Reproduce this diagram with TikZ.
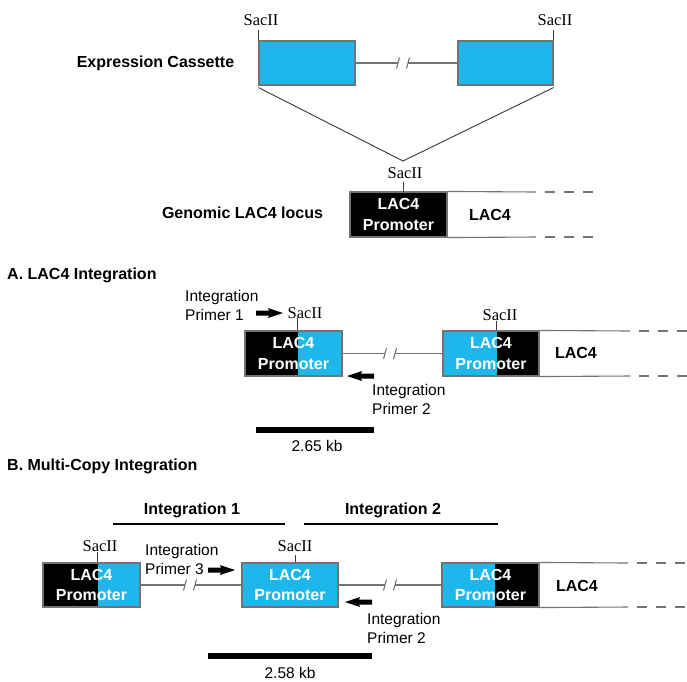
\documentclass[tikz,border=0pt]{standalone}
\usepackage{fontspec}
\setmainfont{Liberation Sans}
\newfontfamily\sacfont{Liberation Serif}
\usetikzlibrary{calc}
\definecolor{cyanbox}{RGB}{30,183,235}
\definecolor{edgegray}{RGB}{115,115,115}
\definecolor{diag}{RGB}{55,55,55}
\begin{document}
\begin{tikzpicture}[x=1pt,y=-1pt,
  labelb/.style={font=\fontsize{16}{19}\selectfont\bfseries, inner sep=0pt},
  labeln/.style={font=\fontsize{15.5}{19}\selectfont, inner sep=0pt, align=left},
  sac/.style={font=\fontsize{16.5}{18}\selectfont\sacfont, inner sep=0pt},
  genebox/.style={draw=edgegray, line width=1.1pt, minimum height=45pt, minimum width=97pt,
     inner sep=0pt, font=\fontsize{16}{20.5}\selectfont\bfseries, text=white, align=center},
  blackleft/.style={fill=cyanbox, path picture={\fill[black] (path picture bounding box.north west) rectangle ([xshift=#1]path picture bounding box.south west);}},
  cyanleft/.style={fill=black, path picture={\fill[cyanbox] (path picture bounding box.north west) rectangle ([xshift=#1]path picture bounding box.south west);}},
  conn/.style={draw=edgegray, line width=1.1pt},
  tick/.style={draw=diag, line width=0.9pt},
  diagline/.style={draw=diag, line width=0.9pt},
  dashedend/.style={draw=edgegray, line width=1.1pt, dash pattern=on 10pt off 9pt},
  intbar/.style={draw=black, line width=2pt},
  scalebar/.style={draw=black, line width=5.5pt},
  brk/.pic={\draw[conn] (-6.5,5.5) -- (-3.5,-5.5); \draw[conn] (3.5,5.5) -- (6.5,-5.5);},
  primer/.pic={\fill[black] (0,-2.5) -- (13,-2.5) -- (12,-5) -- (27,0) -- (12,5) -- (13,2.5) -- (0,2.5) -- cycle;}
]
\useasboundingbox (0,0) rectangle (687,681);

% ---------------- Top: expression cassette ----------------
\node[labelb] (ec) at (155.5,63) {Expression Cassette};
\node[genebox, fill=cyanbox, minimum width=96pt, minimum height=44pt] (cL) at (307,63) {};
\node[genebox, fill=cyanbox, minimum width=95pt, minimum height=44pt] (cR) at (505.5,63) {};
\node[sac] (s1) at (261,20) {SacII};
\node[sac] (s2) at (555,20) {SacII};
\draw[tick] (cL.north west) -- ++(0,-10);
\draw[tick] (cR.north east) -- ++(0,-10);
\coordinate (b0) at (403,63);
\draw[conn] (cL.east) -- ([xshift=-5pt]b0);
\draw[conn] ([xshift=5pt]b0) -- (cR.west);
\pic at (b0) {brk};
\coordinate (V) at (403,161);
\draw[diagline] ([yshift=-2pt]cL.south west) -- (V) -- ([yshift=-2pt]cR.south east);

% ---------------- Genomic locus ----------------
\node[sac] (s3) at (405,173) {SacII};
\node[labelb] (gl) at (242.5,213) {Genomic LAC4 locus};
\node[genebox, fill=black] (gen) at (398.5,214.5) {LAC4\\Promoter};
\coordinate (gt) at (403,192);
\draw[tick] (gt) -- ++(0,-10);
\coordinate (g1) at (536,192);
\coordinate (g2) at (536,237);
\draw[conn] (gen.north east) -- (g1);
\draw[conn] (gen.south east) -- (g2);
\draw[dashedend] (545,192) -- (600,192);
\draw[dashedend] (545,237) -- (600,237);
\node[labelb] (gl4) at (490,215) {LAC4};

% ---------------- A. LAC4 Integration ----------------
\node[labelb, anchor=west] (hA) at (7,275) {A. LAC4 Integration};
\node[labeln, anchor=west] (p1) at (185,305) {Integration\\Primer 1};
\pic at (256,313) {primer};
\node[sac] (s4) at (305,313) {SacII};
\node[genebox, blackleft=53pt] (A1) at (293.5,353.5) {LAC4\\Promoter};
\draw[tick] ([xshift=53pt]A1.north west) -- ++(0,-12);
\node[genebox, cyanleft=54pt, minimum width=96pt] (A2) at (491,353.5) {LAC4\\Promoter};
\node[sac] (s5) at (500,315) {SacII};
\draw[tick] ([xshift=54pt]A2.north west) -- ++(0,-9);
\coordinate (bA) at (390,353.5);
\draw[conn] (A1.east) -- ([xshift=-5pt]bA);
\draw[conn] ([xshift=5pt]bA) -- (A2.west);
\pic at (bA) {brk};
\coordinate (a1) at (630,331);
\coordinate (a2) at (630,376);
\draw[conn] (A2.north east) -- (a1);
\draw[conn] (A2.south east) -- (a2);
\draw[dashedend] (639,331) -- (687,331);
\draw[dashedend] (639,376) -- (687,376);
\node[labelb] (al4) at (576,353) {LAC4};
\pic[rotate=180] at (374,376) {primer};
\node[labeln, anchor=west] (p2) at (372,399) {Integration\\Primer 2};
\draw[scalebar] (256,430) -- (374,430);
\node[labeln] (kbA) at (317,446) {2.65 kb};

% ---------------- B. Multi-Copy Integration ----------------
\node[labelb, anchor=west] (hB) at (7,466) {B. Multi-Copy Integration};
\node[labelb] (i1) at (192,510) {Integration 1};
\draw[intbar] (113,524) -- (285,524);
\node[labelb] (i2) at (393,510) {Integration 2};
\draw[intbar] (304,524) -- (498,524);

\node[genebox, blackleft=55pt, minimum height=44pt] (B1) at (91.5,585) {LAC4\\Promoter};
\node[sac] (s6) at (100,546) {SacII};
\draw[tick] ([xshift=55pt]B1.north west) -- ++(0,-10);
\node[labeln, anchor=west] (p3) at (145,559.5) {Integration\\Primer 3};
\pic at (208,570) {primer};
\node[genebox, fill=cyanbox, minimum width=96pt, minimum height=44pt] (B2) at (290,585) {LAC4\\Promoter};
\node[sac] (s7) at (295,546) {SacII};
\draw[tick] ([xshift=54pt]B2.north west) -- ++(0,-7);
\coordinate (bB1) at (190,585);
\draw[conn] (B1.east) -- ([xshift=-5pt]bB1);
\draw[conn] ([xshift=5pt]bB1) -- (B2.west);
\pic at (bB1) {brk};
\node[genebox, cyanleft=53pt, minimum height=44pt] (B3) at (490.5,585) {LAC4\\Promoter};
\coordinate (bB2) at (390,585);
\draw[conn] (B2.east) -- ([xshift=-5pt]bB2);
\draw[conn] ([xshift=5pt]bB2) -- (B3.west);
\pic at (bB2) {brk};
\coordinate (c1) at (628,563);
\coordinate (c2) at (628,607);
\draw[conn] (B3.north east) -- (c1);
\draw[conn] (B3.south east) -- (c2);
\draw[dashedend] (637,563) -- (687,563);
\draw[dashedend] (637,607) -- (687,607);
\node[labelb] (bl4) at (577,586) {LAC4};
\pic[rotate=180] at (372,602) {primer};
\node[labeln, anchor=west] (p2b) at (367,628) {Integration\\Primer 2};
\draw[scalebar] (208,656) -- (372,656);
\node[labeln] (kbB) at (290,673) {2.58 kb};
\end{tikzpicture}
\end{document}
